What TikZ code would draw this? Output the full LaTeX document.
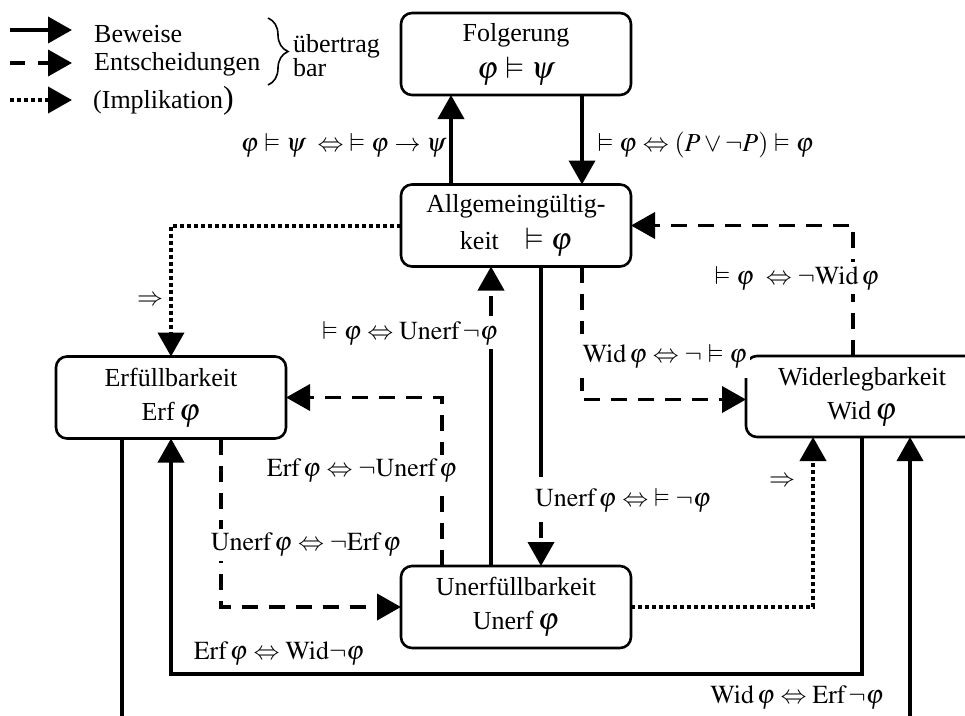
\documentclass[tikz,border=0pt]{standalone}
\usepackage{amsmath, amssymb}
\usepackage{mathptmx}
\usepackage{fontspec}
\setmainfont{Liberation Serif}
\usetikzlibrary{arrows.meta, decorations.pathreplacing}

\newcommand{\boxsym}[1]{{\fontsize{31}{32}\selectfont$#1$}}

\begin{document}
\begin{tikzpicture}[
    x=1pt, y=-1pt,
    every node/.style={font=\fontsize{26}{33}\selectfont},
    state/.style={
        draw,
        rounded corners=11pt,
        line width=2.6pt,
        align=center,
        minimum width=230pt,
        minimum height=82pt,
        inner sep=0pt,
        outer sep=0pt
    },
    proof/.style={line width=3.8pt, -{Triangle[length=24pt, width=26pt]}},
    decide/.style={proof, dash pattern=on 16pt off 11pt},
    impl/.style={proof, line width=4pt, dash pattern=on 4pt off 3pt},
    eqv/.style={fill=white, inner sep=4pt}
]

\useasboundingbox (0,0) rectangle (965,715);
\clip (0,0) rectangle (965,715);

% Legend
\coordinate (ls1) at (10,30);  \coordinate (le1) at (72,30);
\coordinate (ls2) at (10,63);  \coordinate (le2) at (72,63);
\coordinate (ls3) at (10,100); \coordinate (le3) at (72,100);
\draw[proof] (ls1) -- (le1);
\draw[decide, dash pattern=on 15pt off 13pt] (ls2) -- (le2);
\draw[impl] (ls3) -- (le3);
\node[anchor=base west, inner sep=0pt] (beweise) at (94,42) {Beweise};
\node[anchor=base west, inner sep=0pt] (entsch) at (94,70) {Entscheidungen};
\node[anchor=base west, inner sep=0pt] (impl) at (93,108) {(Implikation{\fontsize{32}{32}\selectfont)}};
\draw[line width=1.6pt, decorate, decoration={brace, amplitude=20pt}] (268,18) -- (268,85);
\node[anchor=base west, inner sep=0pt] (uebertrag) at (293,52) {übertrag};
\node[anchor=base west, inner sep=0pt] (bar) at (293,76) {bar};

% States
\node[state] (folg) at (516,54) {Folgerung\\[4pt] \boxsym{\varphi\vDash\psi}};
\node[state] (allg) at (516,225.5) {Allgemeingültig-\\[4pt] keit\quad\boxsym{\vDash\varphi}};
\node[state] (erf) at (171,397.5) {Erfüllbarkeit\\[1pt] Erf\,\boxsym{\varphi}};
\node[state] (unerf) at (516,607) {Unerfüllbarkeit\\[1pt] Unerf\,\boxsym{\varphi}};
\node[state, minimum width=232pt, minimum height=81pt] (wid) at (862,396.5) {Widerlegbarkeit\\[1pt] Wid\,\boxsym{\varphi}};

% Connectors
\draw[proof] ([xshift=-65pt]allg.north) -- ([xshift=-65pt]folg.south);
\draw[proof] ([xshift=66pt]folg.south) -- ([xshift=66pt]allg.north);
\draw[impl] (allg.west) -| (erf.north);
\draw[decide] ([xshift=-9pt]wid.north) |- (allg.east);
\draw[decide] ([xshift=66pt]allg.south) |- ([yshift=-3pt]wid.west);
\draw[decide, dash pattern=on 210pt off 45pt on 16pt off 30pt] ([xshift=25pt]allg.south) -- ([xshift=25pt]unerf.north);
\draw[decide, dash pattern=on 217pt off 33pt on 20pt off 30pt] ([xshift=-25pt]unerf.north) -- ([xshift=-25pt]allg.south);
\draw[decide] ([xshift=-74pt]unerf.north) |- (erf.east);
\draw[decide] ([xshift=50pt]erf.south) |- (unerf.west);
\draw[proof] (wid.south) -- ++(0,237) -| (erf.south);
\draw[proof] ([xshift=-49pt]erf.south) -- ++(0,300) -| ([xshift=48pt]wid.south);
\draw[impl] (unerf.east) -| ([xshift=-49pt]wid.south);

% Labels
\node[anchor=east] (lfa) at (450,145) {$\varphi\vDash\psi\;\Leftrightarrow\;\vDash\varphi\to\psi$};
\node[anchor=west] (laf) at (594,145) {$\vDash\varphi\Leftrightarrow(P\vee\neg P)\vDash\varphi$};
\node (lae) at (150,301) {$\Rightarrow$};
\node[eqv] (lua) at (410,333) {$\vDash\varphi\Leftrightarrow\mathrm{Unerf}\,\neg\varphi$};
\node[eqv] (lwa) at (797,278) {$\vDash\varphi\;\Leftrightarrow\neg\mathrm{Wid}\,\varphi$};
\node[eqv, inner xsep=3pt, inner ysep=10pt] (law) at (665,356) {$\mathrm{Wid}\,\varphi\Leftrightarrow\neg\vDash\varphi$};
\node[eqv] (lue) at (362,471) {$\mathrm{Erf}\,\varphi\Leftrightarrow\neg\mathrm{Unerf}\,\varphi$};
\node[eqv] (leu) at (306,545) {$\mathrm{Unerf}\,\varphi\Leftrightarrow\neg\mathrm{Erf}\,\varphi$};
\node[eqv] (lau) at (623,500) {$\mathrm{Unerf}\,\varphi\Leftrightarrow\;\vDash\neg\varphi$};
\node (luw) at (782,482) {$\Rightarrow$};
\node (lwe) at (279,654) {$\mathrm{Erf}\,\varphi\Leftrightarrow\mathrm{Wid}\neg\varphi$};
\node (lew) at (797,698) {$\mathrm{Wid}\,\varphi\Leftrightarrow\mathrm{Erf}\,\neg\varphi$};

\end{tikzpicture}
\end{document}
